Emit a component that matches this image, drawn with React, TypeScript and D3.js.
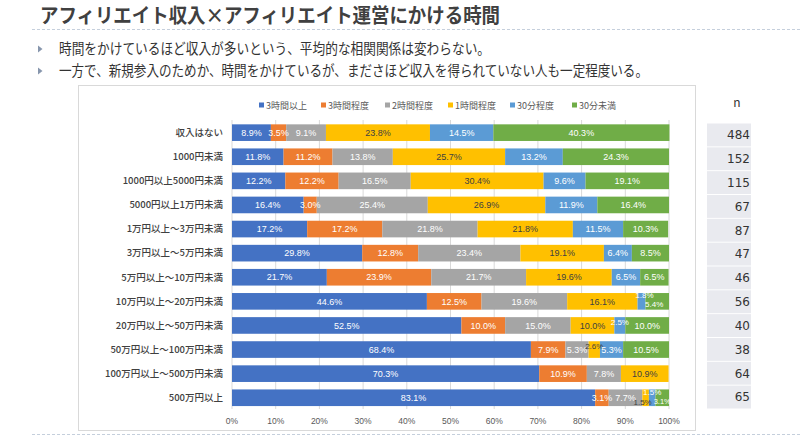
import React from "react";
import * as d3 from "d3";

const title = "アフィリエイト収入×アフィリエイト運営にかける時間";
const bullets = [
  "時間をかけているほど収入が多いという、平均的な相関関係は変わらない。",
  "一方で、新規参入のためか、時間をかけているが、まださほど収入を得られていない人も一定程度いる。",
];

const categories = [
  "収入はない",
  "1000円未満",
  "1000円以上5000円未満",
  "5000円以上1万円未満",
  "1万円以上～3万円未満",
  "3万円以上～5万円未満",
  "5万円以上～10万円未満",
  "10万円以上～20万円未満",
  "20万円以上～50万円未満",
  "50万円以上～100万円未満",
  "100万円以上～500万円未満",
  "500万円以上",
];

const seriesNames = ["3時間以上", "3時間程度", "2時間程度", "1時間程度", "30分程度", "30分未満"];

const s3hPlus = [8.9, 11.8, 12.2, 16.4, 17.2, 29.8, 21.7, 44.6, 52.5, 68.4, 70.3, 83.1];
const s3h = [3.5, 11.2, 12.2, 3.0, 17.2, 12.8, 23.9, 12.5, 10.0, 7.9, 10.9, 3.1];
const s2h = [9.1, 13.8, 16.5, 25.4, 21.8, 23.4, 21.7, 19.6, 15.0, 5.3, 7.8, 7.7];
const s1h = [23.8, 25.7, 30.4, 26.9, 21.8, 19.1, 19.6, 16.1, 10.0, 2.6, 10.9, 1.5];
const s30m = [14.5, 13.2, 9.6, 11.9, 11.5, 6.4, 6.5, 1.8, 2.5, 5.3, 0, 1.5];
const sUnder30 = [40.3, 24.3, 19.1, 16.4, 10.3, 8.5, 6.5, 5.4, 10.0, 10.5, 0, 3.1];

const nValues = [484, 152, 115, 67, 87, 47, 46, 56, 40, 38, 64, 65];
const xTicks = [0, 10, 20, 30, 40, 50, 60, 70, 80, 90, 100];

const colors = ["#4472C4", "#ED7D31", "#A5A5A5", "#FFC000", "#5B9BD5", "#70AD47"];
const labelColors = ["#ffffff", "#ffffff", "#ffffff", "#404040", "#ffffff", "#ffffff"];

// manual label nudges for crowded small segments: key "row-series"
const labelAdjust: Record<string, { dx: number; dy: number; fs: number }> = {
  "7-4": { dx: 3, dy: -6, fs: 8 },
  "7-5": { dx: -3, dy: 3, fs: 8 },
  "8-4": { dx: 0, dy: -3, fs: 8 },
  "9-3": { dx: 0, dy: -3, fs: 8 },
  "11-3": { dx: -3, dy: 4, fs: 8 },
  "11-4": { dx: 0, dy: -5.5, fs: 8 },
  "11-5": { dx: 0, dy: 3.5, fs: 7.5 },
};

const FONT = "'Noto Sans CJK JP', 'Noto Sans', sans-serif";
const NUMFONT = "'Liberation Sans Narrow', 'Liberation Sans', Arial, sans-serif";

export default function App() {
  const W = 800;
  const H = 439;
  const seriesData = [s3hPlus, s3h, s2h, s1h, s30m, sUnder30];
  const rows = categories.map((c, i) => {
    const r: any = { category: c };
    seriesNames.forEach((s, j) => (r[s] = seriesData[j][i]));
    return r;
  });
  const stack = d3.stack<any>().keys(seriesNames)(rows);

  const x = d3.scaleLinear().domain([0, 100]).range([232, 669]);
  const y = d3
    .scaleBand<string>()
    .domain(categories)
    .range([120.6, 409.8])
    .paddingInner(0.31)
    .paddingOuter(0.155);
  const yN = d3
    .scaleBand<string>()
    .domain(categories)
    .range([123.5, 408.5])
    .paddingInner(0.04)
    .paddingOuter(0.0);

  const legendX = [262, 324, 388, 451, 513, 575];

  return (
    <div style={{ position: "absolute", left: 0, top: 0 }}>
      <svg width={W} height={H} style={{ display: "block", background: "#ffffff" }}>
        <text
          x={40}
          y={23}
          fontFamily={FONT}
          fontWeight={700}
          fontSize={20}
          fill="#404040"
          textLength={460}
          lengthAdjust="spacingAndGlyphs"
        >
          {title}
        </text>
        <line x1={32} x2={800} y1={29.5} y2={29.5} stroke="#c5cfdc" strokeDasharray="3,2" />
        {bullets.map((b, i) => {
          const cy = 49 + i * 22;
          return (
            <g key={i}>
              <path d={`M38,${cy - 3.5}L42.5,${cy}L38,${cy + 3.5}Z`} fill="#8796ad" />
              <text
                x={59}
                y={cy + 5}
                fontFamily={FONT}
                fontSize={14.5}
                fill="#333333"
                textLength={i === 0 ? 431 : 589}
                lengthAdjust="spacingAndGlyphs"
              >
                {b}
              </text>
            </g>
          );
        })}

        <rect x={78.5} y={85.5} width={617} height={345} fill="#ffffff" stroke="#d9d9d9" />

        {/* legend */}
        {seriesNames.map((s, j) => (
          <g key={s}>
            <rect x={legendX[j] - 3} y={102.5} width={5} height={5} fill={colors[j]} />
            <text x={legendX[j] + 4} y={108.5} fontFamily={FONT} fontSize={9} fill="#595959">
              {s}
            </text>
          </g>
        ))}

        {/* gridlines */}
        {xTicks.map((t) => (
          <line
            key={t}
            x1={x(t)}
            x2={x(t)}
            y1={120}
            y2={409}
            stroke="#d9d9d9"
            strokeWidth={1}
          />
        ))}

        {/* bars */}
        {stack.map((layer, j) => (
          <g key={layer.key}>
            {layer.map((d, i) => {
              const v = seriesData[j][i];
              if (!v) return null;
              const x0 = x(d[0]);
              const x1 = x(d[1]);
              const cat = categories[i];
              return (
                <rect
                  key={cat}
                  x={x0}
                  y={y(cat)}
                  width={Math.max(0, x1 - x0)}
                  height={y.bandwidth()}
                  fill={colors[j]}
                />
              );
            })}
          </g>
        ))}

        {/* bar labels */}
        {stack.map((layer, j) => (
          <g key={"l" + layer.key}>
            {layer.map((d, i) => {
              const v = seriesData[j][i];
              if (!v) return null;
              const cat = categories[i];
              const adj = labelAdjust[`${i}-${j}`] || { dx: 0, dy: 0, fs: 9 };
              const cx = (x(d[0]) + x(d[1])) / 2 + adj.dx;
              const cy = (y(cat) as number) + y.bandwidth() / 2 + adj.dy;
              return (
                <text
                  key={cat}
                  x={cx}
                  y={cy}
                  dy="0.35em"
                  textAnchor="middle"
                  fontFamily={NUMFONT}
                  fontSize={adj.fs}
                  fill={labelColors[j]}
                >
                  {v.toFixed(1) + "%"}
                </text>
              );
            })}
          </g>
        ))}

        {/* category labels */}
        {categories.map((c) => (
          <text
            key={c}
            x={223}
            y={(y(c) as number) + y.bandwidth() / 2}
            dy="0.35em"
            textAnchor="end"
            fontFamily={FONT}
            fontSize={9.5}
            fontWeight={500}
            fill="#404040"
          >
            {c}
          </text>
        ))}

        {/* x axis labels */}
        {xTicks.map((t) => (
          <text
            key={"t" + t}
            x={x(t)}
            y={424}
            textAnchor="middle"
            fontFamily={NUMFONT}
            fontSize={8.5}
            fill="#595959"
          >
            {t + "%"}
          </text>
        ))}

        {/* n column */}
        <text x={737} y={107} textAnchor="middle" fontFamily={FONT} fontSize={12} fill="#333333">
          n
        </text>
        {categories.map((c, i) => (
          <g key={"n" + c}>
            <rect x={707} y={yN(c)} width={44} height={yN.bandwidth()} fill="#e9eaef" />
            <text
              x={750}
              y={(yN(c) as number) + yN.bandwidth() / 2}
              dy="0.36em"
              textAnchor="end"
              fontFamily="'DejaVu Sans', 'Noto Sans', sans-serif"
              fontSize={12}
              fill="#333333"
            >
              {nValues[i]}
            </text>
          </g>
        ))}

        <line x1={32} x2={800} y1={434.5} y2={434.5} stroke="#c5cfdc" strokeDasharray="3,2" />
      </svg>
    </div>
  );
}
